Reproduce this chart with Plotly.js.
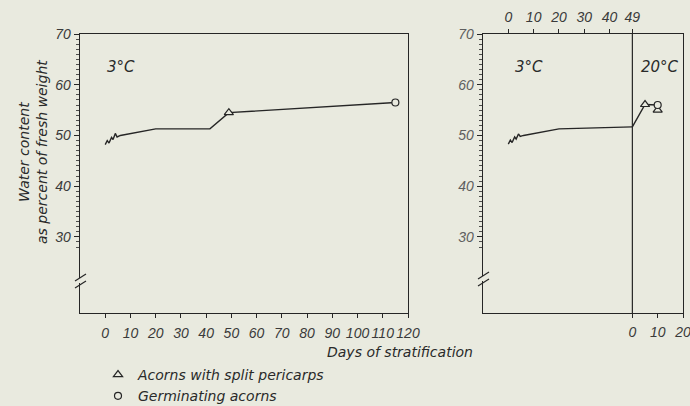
<!DOCTYPE html>
<html>
<head>
<meta charset="utf-8">
<script src="https://cdn.plot.ly/plotly-3.0.1.min.js"></script>
<style>html,body{margin:0;padding:0;background:#e9eadf;}</style>
</head>
<body>
<div id="chart" style="width:690px;height:406px;"></div>
<script>
// ---- Data ----
// Left panel: continuous stratification at 3 C (days of stratification)
const leftDays  = [0, 0.8, 1.5, 2.5, 3.1, 4, 4.7, 6, 20, 41.5, 49, 115];
const leftWater = [48.2, 49.0, 48.5, 49.6, 49.2, 50.4, 49.7, 50.0, 51.3, 51.3, 54.5, 56.5];
const leftSplitDays  = [49];
const leftSplitWater = [54.5];
const leftGermDays   = [115];
const leftGermWater  = [56.5];

// Right panel: 49 days at 3 C, then transferred to 20 C
const rightDays  = [0, 0.8, 1.5, 2.5, 3.1, 4, 4.7, 6, 20, 49];
const rightWater = [48.3, 49.1, 48.6, 49.7, 49.3, 50.3, 49.8, 50.0, 51.3, 51.7];
const warmDays   = [0, 5, 10];          // days at 20 C
const warmWater  = [51.7, 56.1, 56.0];
const warmSplitDays  = [5, 10];
const warmSplitWater = [56.1, 55.0];
const warmGermDays   = [10];
const warmGermWater  = [56.0];

// Tick labels
const leftXTicks    = [0, 10, 20, 30, 40, 50, 60, 70, 80, 90, 100, 110, 120];
const rightTopTicks = [0, 10, 20, 30, 40, 49];
const rightBotTicks = [0, 10, 20];
const yTicks = [30, 40, 50, 60, 70];
const legendLabels = ['Acorns with split pericarps', 'Germinating acorns'];
const yTitle = 'Water content<br>as percent of fresh weight';
const xTitle = 'Days of stratification';

// ---- Style ----
const W = 690, H = 406;
const BG = '#e9eadf';
const INK = '#262626';
const TICKFONT = 'Liberation Sans, sans-serif';
const TEXTFONT = 'DejaVu Sans, sans-serif';
const px = v => v / W;
const py = v => 1 - v / H;

const tickFont = {family: TICKFONT, size: 14, color: '#3a3a3a', style: 'italic'};

const baseAxis = {
  showgrid: false, zeroline: false, showline: true,
  linecolor: INK, linewidth: 1.4, tickcolor: INK, tickwidth: 1,
  ticks: 'outside', ticklen: 4, tickfont: tickFont, tickmode: 'array', fixedrange: true,
  ticklabeloverflow: 'allow'
};
const yAxisBase = Object.assign({}, baseAxis, {
  range: [15, 70], tickvals: yTicks, ticklen: 5, mirror: true,
  domain: [py(313), py(34)]
});
// small graduation (every 1 %) drawn by a tick-only axis from 28 to 70
const minorAxisBase = {
  domain: [py(247), py(34)], range: [28, 70], tickmode: 'linear', tick0: 28, dtick: 1,
  ticks: 'outside', ticklen: 3, tickwidth: 0.8, tickcolor: INK,
  showticklabels: false, showline: false, showgrid: false, zeroline: false, fixedrange: true
};

const markerTri = {symbol: 'triangle-up', size: 8, color: BG, line: {color: INK, width: 1.2}};
const markerCirc = {symbol: 'circle', size: 7, color: BG, line: {color: INK, width: 1.2}};
const lineStyle = {color: INK, width: 1.4};

const traces = [
  {x: [null], y: [null], xaxis: 'x', yaxis: 'y3', mode: 'markers', showlegend: false, hoverinfo: 'skip'},
  {x: [null], y: [null], xaxis: 'x2', yaxis: 'y4', mode: 'markers', showlegend: false, hoverinfo: 'skip'},
  {x: leftDays, y: leftWater, xaxis: 'x', yaxis: 'y', mode: 'lines', line: lineStyle, showlegend: false, hoverinfo: 'skip'},
  {x: rightDays, y: rightWater, xaxis: 'x2', yaxis: 'y2', mode: 'lines', line: lineStyle, showlegend: false, hoverinfo: 'skip'},
  {x: warmDays, y: warmWater, xaxis: 'x3', yaxis: 'y2', mode: 'lines', line: lineStyle, showlegend: false, hoverinfo: 'skip'},
  {x: leftSplitDays, y: leftSplitWater, xaxis: 'x', yaxis: 'y', mode: 'markers', marker: markerTri, name: legendLabels[0], legendgroup: 'a'},
  {x: leftGermDays, y: leftGermWater, xaxis: 'x', yaxis: 'y', mode: 'markers', marker: markerCirc, name: legendLabels[1], legendgroup: 'b'},
  {x: warmSplitDays, y: warmSplitWater, xaxis: 'x3', yaxis: 'y2', mode: 'markers', marker: markerTri, name: legendLabels[0], legendgroup: 'a', showlegend: false},
  {x: warmGermDays, y: warmGermWater, xaxis: 'x3', yaxis: 'y2', mode: 'markers', marker: markerCirc, name: legendLabels[1], legendgroup: 'b', showlegend: false}
];

const annFont = {family: TEXTFONT, size: 14, color: '#2a2a2a', style: 'italic'};

const layout = {
  width: W, height: H,
  margin: {l: 0, r: 0, t: 0, b: 0, autoexpand: false},
  paper_bgcolor: BG, plot_bgcolor: 'rgba(0,0,0,0)',
  xaxis: Object.assign({}, baseAxis, {domain: [px(80), px(408)], range: [-10, 120], tickvals: leftXTicks, anchor: 'y', mirror: true, ticklabelstandoff: 3}),
  yaxis: Object.assign({}, yAxisBase, {anchor: 'x'}),
  yaxis3: Object.assign({}, minorAxisBase, {anchor: 'x'}),
  xaxis2: Object.assign({}, baseAxis, {domain: [px(483), px(683)], range: [-10, 69], tickvals: rightTopTicks, side: 'top', anchor: 'y2', ticklabelstandoff: 1}),
  xaxis3: Object.assign({}, baseAxis, {domain: [px(483), px(683)], range: [-59, 20], tickvals: rightBotTicks, side: 'bottom', anchor: 'y2', overlaying: 'x2', ticklabelstandoff: 2}),
  yaxis2: Object.assign({}, yAxisBase, {anchor: 'x2', tickfont: Object.assign({}, tickFont, {color: '#5e5e5e'})}),
  yaxis4: Object.assign({}, minorAxisBase, {anchor: 'x2'}),
  showlegend: true,
  legend: {x: px(98), y: py(359), xanchor: 'left', yanchor: 'top', bgcolor: 'rgba(0,0,0,0)',
           font: {family: TEXTFONT, size: 14, color: '#2a2a2a', style: 'italic'}, tracegroupgap: 0, itemsizing: 'trace'},
  annotations: [
    {xref: 'x', yref: 'y', x: 0, y: 63.5, xanchor: 'left', yanchor: 'middle', text: '3°C', showarrow: false, font: Object.assign({}, annFont, {size: 15})},
    {xref: 'x2', yref: 'y2', x: 2, y: 63.5, xanchor: 'left', yanchor: 'middle', text: '3°C', showarrow: false, font: Object.assign({}, annFont, {size: 15})},
    {xref: 'x3', yref: 'y2', x: 2.8, y: 63.5, xanchor: 'left', yanchor: 'middle', text: '20°C', showarrow: false, font: Object.assign({}, annFont, {size: 15})},
    {xref: 'paper', yref: 'paper', x: px(400), y: py(352), xanchor: 'center', yanchor: 'middle', text: xTitle, showarrow: false, font: annFont},
    {xref: 'paper', yref: 'paper', x: px(33), y: py(152), xanchor: 'center', yanchor: 'middle', text: yTitle, textangle: -90, showarrow: false, font: annFont}
  ],
  shapes: [
    // 20 C transfer line
    {type: 'line', xref: 'x3', yref: 'y2', x0: 0, x1: 0, y0: 15, y1: 70, line: {color: INK, width: 1.2}},
    // axis breaks (left panel)
    {type: 'rect', xref: 'paper', yref: 'paper', x0: px(77), x1: px(84), y0: py(283), y1: py(278), fillcolor: BG, line: {width: 0}, layer: 'above'},
    {type: 'line', xref: 'paper', yref: 'paper', x0: px(75), y0: py(281), x1: px(86), y1: py(274), line: {color: INK, width: 1.2}, layer: 'above'},
    {type: 'line', xref: 'paper', yref: 'paper', x0: px(75), y0: py(288), x1: px(86), y1: py(281), line: {color: INK, width: 1.2}, layer: 'above'},
    // axis breaks (right panel)
    {type: 'rect', xref: 'paper', yref: 'paper', x0: px(480), x1: px(487), y0: py(281), y1: py(276), fillcolor: BG, line: {width: 0}, layer: 'above'},
    {type: 'line', xref: 'paper', yref: 'paper', x0: px(478), y0: py(279), x1: px(489), y1: py(272), line: {color: INK, width: 1.2}, layer: 'above'},
    {type: 'line', xref: 'paper', yref: 'paper', x0: px(478), y0: py(286), x1: px(489), y1: py(279), line: {color: INK, width: 1.2}, layer: 'above'}
  ]
};

Plotly.newPlot('chart', traces, layout, {displayModeBar: false, staticPlot: true});
</script>
</body>
</html>
